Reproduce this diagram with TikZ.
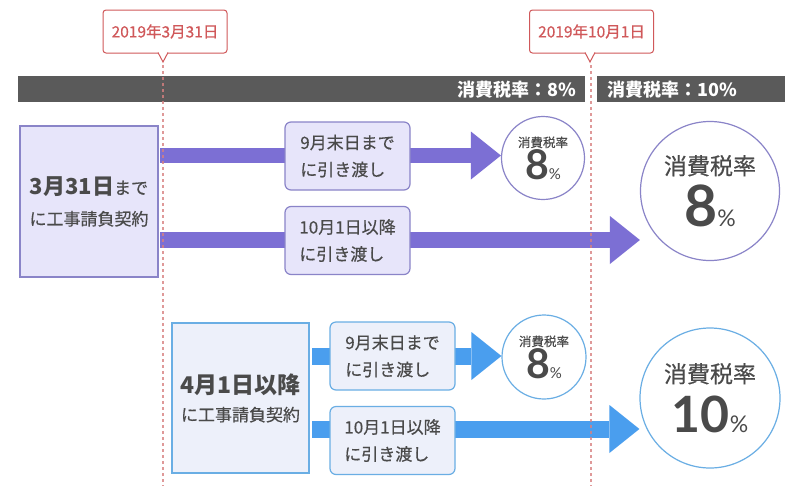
\documentclass[tikz,border=0pt]{standalone}
\usepackage{fontspec}
\setmainfont{Noto Sans CJK JP}[FakeBold=0.45, BoldFeatures={FakeBold=0}]
\newfontfamily\numfont{Lato}
\usetikzlibrary{arrows.meta,calc}
\definecolor{calred}{HTML}{D0585A}
\definecolor{dashred}{HTML}{D88080}
\definecolor{barc}{HTML}{5A5A5A}
\definecolor{txt}{HTML}{4A4A4A}
\definecolor{purp}{HTML}{7C6FD4}
\definecolor{purpline}{HTML}{8A84C8}
\definecolor{purpfill}{HTML}{E7E5FA}
\definecolor{blu}{HTML}{4A9EEE}
\definecolor{bluline}{HTML}{6AAEE4}
\definecolor{blufill}{HTML}{EDF0FA}
\newcommand{\fs}[2]{\fontsize{#1}{#2}\selectfont}
\tikzset{
  callbox/.style={draw=calred, fill=white, rounded corners=3pt, line width=1pt,
    minimum width=124pt, minimum height=43pt, inner sep=0pt, text=calred, font=\fs{15.5}{18}},
  calltip/.style={draw=calred, fill=white, line width=1pt},
  dashline/.style={draw=dashred, line width=1.2pt, dash pattern=on 3pt off 3pt, opacity=0.8},
  bartext/.style={text=white, font=\bfseries\fs{18}{20}, inner sep=0pt},
  bigbox/.style={line width=1.2pt, inner sep=0pt, align=center, text=txt},
  subbox/.style={line width=1.2pt, rounded corners=6pt, minimum width=125pt, minimum height=68pt,
    inner sep=0pt, align=left, text=txt, font=\fs{17}{27}},
  circ/.style={circle, line width=1.2pt, fill=white, inner sep=0pt, align=center, text=txt},
  parrow/.style={draw=purp, line width=15.5pt, -{Triangle[length=30pt,width=48pt,line width=0pt]}},
  barrow/.style={draw=blu, line width=17pt, -{Triangle[length=30pt,width=48pt,line width=0pt]}},
}
\begin{document}
\begin{tikzpicture}[x=1pt,y=-1pt]
\useasboundingbox (0,0) rectangle (800,491);
\fill[white] (0,0) rectangle (800,491);

% top bars
\fill[barc] (18,76) rectangle (585,102);
\fill[barc] (597,76) rectangle (785,102);
\node[bartext, anchor=east] (bt1) at (576,89.5) {消費税率：8\%};
\node[bartext, anchor=west] (bt2) at (607,89.5) {消費税率：10\%};

% big boxes and circles
\node[bigbox, draw=purpline, fill=purpfill, minimum width=138pt, minimum height=151pt, font=\fs{17}{31}] (b1) at (89,201.5)
  {{\bfseries\fs{22}{31}3月31日}{\fs{17}{31}まで}\\に工事請負契約};
\node[bigbox, draw=bluline, fill=blufill, minimum width=137pt, minimum height=150pt, font=\fs{17}{28}] (b2) at (240.5,398)
  {{\bfseries\fs{23}{28}4月1日以降}\\に工事請負契約};

\node[circ, draw=purpline, minimum size=83pt, font=\fs{12.5}{32}] (k1) at (543,158)
  {消費税率\\{\numfont\bfseries\fs{41}{32}8}{\numfont\fs{15}{32}\%}};
\node[circ, draw=purpline, minimum size=139pt, font=\fs{23}{52}] (k2) at (710,191)
  {消費税率\\{\numfont\bfseries\fs{57}{52}8}{\numfont\fs{23}{52}\%}};
\node[circ, draw=bluline, minimum size=84pt, font=\fs{12.5}{32}] (k3) at (544,357)
  {消費税率\\{\numfont\bfseries\fs{41}{32}8}{\numfont\fs{15}{32}\%}};
\node[circ, draw=bluline, minimum size=140pt, font=\fs{23}{50}] (k4) at (710,398)
  {消費税率\\{\numfont\bfseries\fs{50}{50}10}{\numfont\fs{23}{50}\%}};

% arrows
\coordinate (a1s) at (160,155.5);
\coordinate (a2s) at (160,240);
\coordinate (a3s) at (312,356);
\coordinate (a4s) at (312,429);
\draw[parrow] (a1s) -- (k1.west |- a1s);
\draw[parrow] (a2s) -- (k2.west |- a2s);
\draw[barrow] (a3s) -- (k3.west |- a3s);
\draw[barrow] (a4s) -- (k4.west |- a4s);

% sub boxes on top of shafts
\node[subbox, draw=purpline, fill=purpfill] (s1) at (347.5,156) {9月末日まで\\に引き渡し};
\node[subbox, draw=purpline, fill=purpfill] (s2) at (347.5,240.5) {10月1日以降\\に引き渡し};
\node[subbox, draw=bluline, fill=blufill] (s3) at (392.5,356) {9月末日まで\\に引き渡し};
\node[subbox, draw=bluline, fill=blufill] (s4) at (392.5,440.5) {10月1日以降\\に引き渡し};

% callouts
\node[callbox] (c1) at (165,31.5) {2019年3月31日};
\node[callbox] (c2) at (591.5,31.5) {2019年10月1日};
\coordinate (t1) at (163,62);
\coordinate (t2) at (590,62);
\filldraw[calltip] ($(t1)+(-5,-9.5)$) -- (t1) -- ($(t1)+(5,-9.5)$);
\fill[white] ($(t1)+(-4.2,-10.6)$) rectangle ($(t1)+(4.2,-8.6)$);
\filldraw[calltip] ($(t2)+(-5,-9.5)$) -- (t2) -- ($(t2)+(5,-9.5)$);
\fill[white] ($(t2)+(-4.2,-10.6)$) rectangle ($(t2)+(4.2,-8.6)$);

% dashed date lines
\coordinate (d1) at (163,486);
\coordinate (d2) at (591,486);
\draw[dashline] ($(t1)+(0,3)$) -- (d1);
\draw[dashline] ($(t2)+(1,3)$) -- (d2);
\end{tikzpicture}
\end{document}
